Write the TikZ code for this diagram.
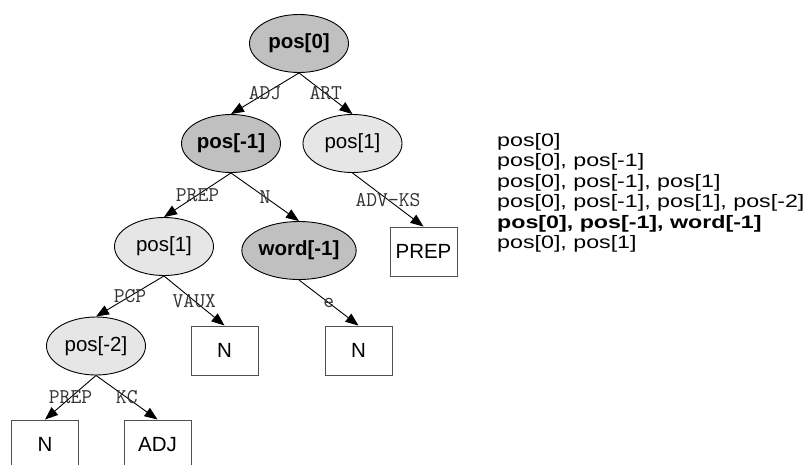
\documentclass[tikz,border=0pt]{standalone}
\usepackage{fontspec}
\usepackage{graphicx}
\setmainfont{Liberation Sans}
\usetikzlibrary{shapes.geometric,arrows.meta}

\definecolor{featdark}{RGB}{192,192,192}
\definecolor{featlight}{RGB}{230,230,230}
\definecolor{boxline}{RGB}{80,80,80}

\tikzset{
  feat/.style={ellipse,draw=black,line width=0.9pt,minimum width=99pt,minimum height=58pt,inner sep=0pt,font=\fontsize{20.5}{24}\selectfont},
  featbold/.style={feat,fill=featdark,font=\fontsize{20.5}{24}\selectfont\bfseries},
  featplain/.style={feat,fill=featlight},
  leaf/.style={rectangle,draw=boxline,line width=0.9pt,fill=white,minimum width=67pt,minimum height=49pt,inner sep=0pt,font=\fontsize{20.5}{24}\selectfont},
  edge/.style={draw=black,line width=0.9pt,-{Triangle[length=13pt,width=10pt]}},
  lab/.style={font=\ttfamily\fontsize{21}{24}\selectfont,text=black!80,inner sep=0pt},
  listline/.style={anchor=base west,inner sep=0pt,font=\fontsize{18}{20.5}\selectfont}
}

\begin{document}
\begin{tikzpicture}[x=1pt,y=-1pt]
	\useasboundingbox (0,0) rectangle (808,464);
	% feature nodes
	\node[featbold] (p0) at (299,43.5) {pos[0]};
	\node[featbold] (pm1) at (231,143.5) {pos[-1]};
	\node[featplain] (p1r) at (352.5,143.5) {pos[1]};
	\node[featplain] (p1l) at (164,246.5) {pos[1]};
	\node[featbold] (wm1) at (299,250.5) {word[-1]};
	\node[featplain] (pm2) at (96,346) {pos[-2]};
	% leaves
	\node[leaf] (prep) at (423.5,251.5) {PREP};
	\node[leaf] (nvaux) at (224.5,350.5) {N};
	\node[leaf] (ne) at (358.5,350.5) {N};
	\node[leaf] (nprep) at (45,444.5) {N};
	\node[leaf] (adj) at (157.5,444.5) {ADJ};
	% edges
	\draw[edge] (p0.south) -- node[lab] {ADJ} (pm1.north);
	\draw[edge] (p0.south) -- node[lab] {ART} (p1r.north);
	\draw[edge] (pm1.south) -- node[lab] {PREP} (p1l.north);
	\draw[edge] (pm1.south) -- node[lab] {N} (wm1.north);
	\draw[edge] (p1r.south) -- node[lab] {ADV-KS} (prep.north);
	\draw[edge] (p1l.south) -- node[lab] {PCP} (pm2.north);
	\draw[edge] (p1l.south) -- node[lab] {VAUX} (nvaux.north);
	\draw[edge] (wm1.south) -- node[lab] {e} (ne.north);
	\draw[edge] (pm2.south) -- node[lab] {PREP} (nprep.north);
	\draw[edge] (pm2.south) -- node[lab] {KC} (adj.north);
	% feature list
	\foreach \txt [count=\i] in {{pos[0]},{pos[0], pos[-1]},{pos[0], pos[-1], pos[1]},{pos[0], pos[-1], pos[1], pos[-2]},{\textbf{pos[0], pos[-1], word[-1]}},{pos[0], pos[1]}}
		\node[listline] (list\i) at (497,{146+(\i-1)*20.5}) {\scalebox{1.29}[1]{\txt}};
\end{tikzpicture}
\end{document}
